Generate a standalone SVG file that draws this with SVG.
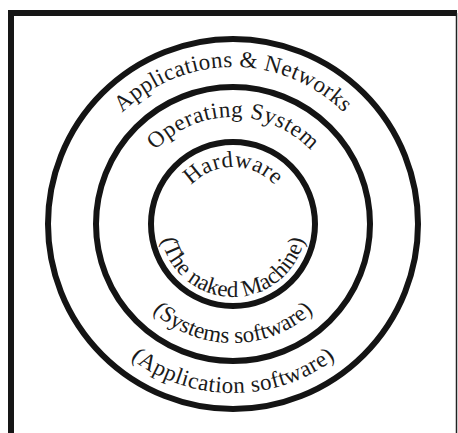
<svg xmlns="http://www.w3.org/2000/svg" xmlns:xlink="http://www.w3.org/1999/xlink" width="458" height="433" viewBox="0 0 458 433">
<style>
.ring{fill:none;stroke:#141414;stroke-width:6}
.lbl{font-family:"Liberation Serif","Times New Roman",serif;font-size:23px;fill:#1a1a1a}
</style>
<defs>
<path id="pApps" d="M76,224 A157,157 0 0 1 390,224"/>
<path id="pOS" d="M126,224 A107,107 0 0 1 340,224"/>
<path id="pHw" d="M176,224 A57,57 0 0 1 290,224"/>
<path id="pNaked" d="M160,224 A73,73 0 0 0 306,224"/>
<path id="pSys" d="M114,224 A119,119 0 0 0 352,224"/>
<path id="pAppSw" d="M64,224 A169,169 0 0 0 402,224"/>
</defs>
<rect width="458" height="433" fill="#fff"/>
<g id="frame">
<path d="M11,433 V13 H457" fill="none" stroke="#161616" stroke-width="6"/>
<line x1="456.5" y1="13" x2="456.5" y2="433" stroke="#222" stroke-width="1.5"/>
</g>
<g id="outer">
<circle class="ring" cx="233" cy="224" r="185"/>
<text class="lbl"><textPath xlink:href="#pApps" href="#pApps" startOffset="50%" text-anchor="middle" textLength="246" lengthAdjust="spacing">Applications &amp; Networks</textPath></text>
<text class="lbl"><textPath xlink:href="#pAppSw" href="#pAppSw" startOffset="50%" text-anchor="middle" textLength="220" lengthAdjust="spacing">(Application software)</textPath></text>
</g>
<g id="middle">
<circle class="ring" cx="233" cy="224" r="137"/>
<text class="lbl"><textPath xlink:href="#pOS" href="#pOS" startOffset="50%" text-anchor="middle" textLength="174" lengthAdjust="spacing">Operating System</textPath></text>
<text class="lbl"><textPath xlink:href="#pSys" href="#pSys" startOffset="50%" text-anchor="middle" textLength="177" lengthAdjust="spacing">(Systems software)</textPath></text>
</g>
<g id="inner">
<circle class="ring" cx="233" cy="224" r="82"/>
<text class="lbl"><textPath xlink:href="#pHw" href="#pHw" startOffset="50%" text-anchor="middle" textLength="94" lengthAdjust="spacing">Hardware</textPath></text>
<text class="lbl"><textPath xlink:href="#pNaked" href="#pNaked" startOffset="50%" text-anchor="middle" textLength="198" lengthAdjust="spacing">(The naked Machine)</textPath></text>
</g>
<g id="connectors"/>
</svg>
